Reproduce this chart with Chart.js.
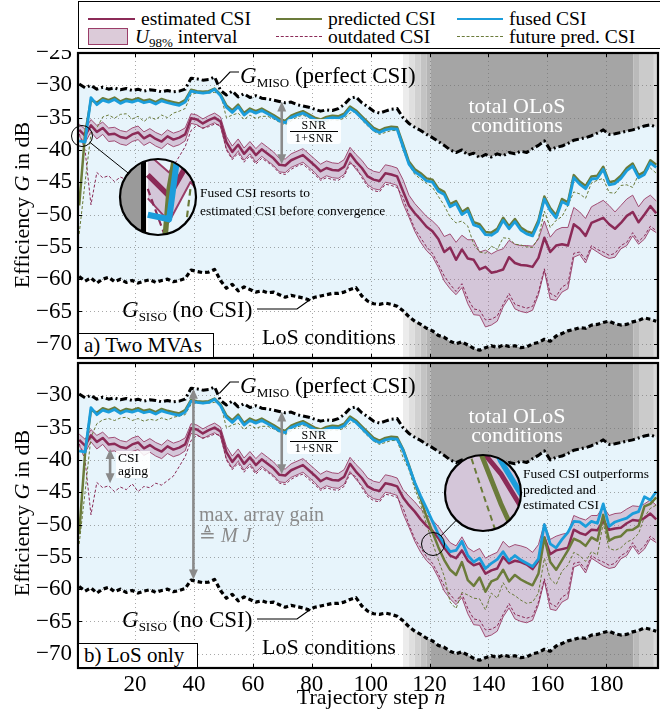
<!DOCTYPE html>
<html><head><meta charset="utf-8">
<script src="https://cdn.jsdelivr.net/npm/chart.js@4.4.1/dist/chart.umd.min.js"></script>
<style>
html,body{margin:0;padding:0;background:#fff}
body{width:660px;height:713px;position:relative;overflow:hidden;font-family:"Liberation Serif","Times New Roman",serif;color:#000}
.panel{position:absolute;left:0;width:660px}
.panel canvas{position:absolute;left:0;top:0}
.t{position:absolute;white-space:nowrap;line-height:1}
.sub{font-size:13px;position:relative;top:4px}
.box{position:absolute;background:#fff;border:1.5px solid #000;box-sizing:border-box;font-size:21px;line-height:23px;padding-left:5px;white-space:nowrap}
#legend{position:absolute;left:78px;top:1px;width:590px;height:48px;border:1.5px solid #000;box-sizing:border-box;background:#fff}
.lg{position:absolute;font-size:19.5px;line-height:1;white-space:nowrap}
.ll{position:absolute;height:0}
</style>
</head><body>

<div id="legend">
  <div class="ll" style="left:9px;top:16px;width:47px;border-top:2.5px solid #8b2a57"></div>
  <div class="lg" style="left:62px;top:7px">estimated CSI</div>
  <div class="ll" style="left:197px;top:16px;width:46px;border-top:2.5px solid #6b7b3a"></div>
  <div class="lg" style="left:249px;top:7px">predicted CSI</div>
  <div class="ll" style="left:378px;top:16px;width:46px;border-top:2.5px solid #1b9ddb"></div>
  <div class="lg" style="left:430px;top:7px">fused CSI</div>
  <div style="position:absolute;left:9px;top:26px;width:40px;height:17px;background:#dccbd9;border:1px solid #9a3d68;box-sizing:border-box"></div>
  <div class="lg" style="left:56px;top:25px"><i>U</i><span style="font-size:13px;position:relative;top:4px">98%</span> interval</div>
  <div class="ll" style="left:197px;top:34px;width:46px;border-top:1px dashed #8b2a57"></div>
  <div class="lg" style="left:249px;top:25px">outdated CSI</div>
  <div class="ll" style="left:378px;top:34px;width:46px;border-top:1px dashed #6b7b3a"></div>
  <div class="lg" style="left:430px;top:25px">future pred. CSI</div>
</div>

<div id="pa" class="panel" style="top:50px;height:312px">
  <canvas id="ca" width="660" height="312"></canvas>
  <div class="t" style="left:240px;top:14px;font-size:23px"><i>G</i><span class="sub">MISO</span> (perfect CSI)</div>
  <div class="t" style="left:122px;top:248px;font-size:23px"><i>G</i><span class="sub">SISO</span> (no CSI)</div>
  <div class="t" style="left:262px;top:276px;font-size:22px">LoS conditions</div>
  <div class="t" style="left:417px;top:46px;width:200px;text-align:center;font-size:22px;line-height:19px;color:#fff">total OLoS<br>conditions</div>
  <div style="position:absolute;left:287px;top:69px;width:54px;height:25px;background:rgba(255,255,255,0.85);border-radius:3px;text-align:center;font-size:12px;line-height:11px;letter-spacing:0.5px">
    <div style="margin-top:1px">SNR</div><div style="border-top:1px solid #000;margin:0 3px;padding-top:1px">1+SNR</div></div>
  <div class="t" style="left:200px;top:134px;font-size:13.5px;line-height:18px">Fused CSI resorts to<br>estimated CSI before convergence</div>
  <div class="box" style="left:78px;top:283px;width:136px;height:25px">a) Two MVAs</div>
</div>

<div id="pb" class="panel" style="top:360px;height:353px">
  <canvas id="cb" width="660" height="353"></canvas>
  <div class="t" style="left:240px;top:14px;font-size:23px"><i>G</i><span class="sub">MISO</span> (perfect CSI)</div>
  <div class="t" style="left:122px;top:248px;font-size:23px"><i>G</i><span class="sub">SISO</span> (no CSI)</div>
  <div class="t" style="left:262px;top:276px;font-size:22px">LoS conditions</div>
  <div class="t" style="left:417px;top:46px;width:200px;text-align:center;font-size:22px;line-height:19px;color:#fff">total OLoS<br>conditions</div>
  <div style="position:absolute;left:287px;top:69px;width:54px;height:25px;background:rgba(255,255,255,0.85);border-radius:3px;text-align:center;font-size:12px;line-height:11px;letter-spacing:0.5px">
    <div style="margin-top:1px">SNR</div><div style="border-top:1px solid #000;margin:0 3px;padding-top:1px">1+SNR</div></div>
  <div class="t" style="left:116px;top:91px;padding:1px 2px;background:rgba(255,255,255,0.85);font-size:13.5px;line-height:12.5px;text-align:left">CSI<br>aging</div>
  <div class="t" style="left:199px;top:144px;font-size:20px;color:#8a8a8a">max. array gain</div>
  <div class="t" style="left:199px;top:165px;font-size:20px;color:#8a8a8a">≜ <i>M J</i></div>
  <div class="t" style="left:523px;top:106px;font-size:13.5px;line-height:15.5px">Fused CSI outperforms<br>predicted and<br>estimated CSI</div>
  <div class="box" style="left:78px;top:283px;width:120px;height:25px">b) LoS only</div>
</div>

<div class="t" style="left:22px;top:205px;font-size:22px;transform:translate(-50%,-50%) rotate(-90deg)">Efficiency <i>G</i> in dB</div>
<div class="t" style="left:22px;top:513px;font-size:22px;transform:translate(-50%,-50%) rotate(-90deg)">Efficiency <i>G</i> in dB</div>
<div class="t" style="left:371px;top:697px;font-size:22px;transform:translate(-50%,-50%)">Trajectory step <i>n</i></div>

<script>
// ---------------- DATA ----------------
const nSteps = [1,3,5,7,9,11,13,15,17,19,21,23,25,27,29,31,33,35,37,39,41,43,45,47,49,51,53,55,57,59,61,63,65,67,69,71,73,75,77,79,81,83,85,87,89,91,93,95,97,99,101,103,105,107,109,111,113,115,117,119,121,123,125,127,129,131,133,135,137,139,141,143,145,147,149,151,153,155,157,159,161,163,165,167,169,171,173,175,177,179,181,183,185,187,189,191,193,195,197];

const xTickValues = [20,40,60,80,100,120,140,160,180];
const yTickValuesA = [-70,-65,-60,-55,-50,-45,-40,-35,-30,-25];
const yTickValuesB = [-70,-65,-60,-55,-50,-45,-40,-35,-30];

const gMiso = [-29.8,-30.4,-30.0,-30.6,-30.3,-30.6,-30.4,-30.7,-30.5,-30.8,
 -30.6,-30.9,-30.7,-30.8,-31.0,-30.8,-31.0,-30.9,-30.6,-28.9,
 -29.0,-29.2,-29.1,-28.7,-30.8,-31.5,-30.9,-31.8,-31.3,-31.9,
 -31.6,-32.0,-32.1,-32.3,-32.5,-32.7,-32.6,-33.0,-33.2,-33.4,
 -33.7,-34.0,-33.8,-33.9,-33.6,-33.0,-32.0,-31.8,-32.7,-33.3,
 -34.0,-34.3,-34.0,-33.7,-33.6,
 -35.0,-35.9,-36.5,-37.0,-37.6,-38.1,-38.7,-39.3,-40.0,-40.4,
 -40.0,-40.8,-40.5,-41.2,-40.7,-41.1,-40.6,-40.9,-40.4,-40.6,
 -40.2,-40.4,-39.8,-39.3,-38.6,-40.0,-39.6,-39.4,-39.0,-38.5,
 -38.3,-38.1,-37.8,-37.4,-36.9,-37.6,-37.5,-37.3,-37.1,-36.9,
 -36.6,-36.3,-36.1,-36.5];

const gSiso = [-59.6,-60.3,-59.8,-60.6,-60.0,-59.7,-60.4,-60.0,-60.5,-60.2,
 -60.6,-60.3,-60.1,-60.5,-60.2,-60.0,-60.4,-60.2,-59.9,-58.6,
 -58.8,-59.0,-58.9,-58.5,-60.2,-61.4,-60.8,-61.8,-61.2,-61.6,
 -62.0,-61.8,-62.1,-62.0,-62.4,-62.8,-62.5,-62.7,-62.9,-63.2,
 -62.8,-62.6,-62.4,-62.2,-62.2,-62.0,-61.6,-61.3,-62.6,-63.4,
 -63.8,-63.9,-63.7,-63.9,-64.2,
 -64.9,-65.8,-66.5,-67.0,-67.6,-68.0,-68.7,-69.0,-69.6,-70.0,
 -69.7,-70.2,-70.7,-71.0,-70.6,-70.3,-70.6,-70.2,-70.4,-70.3,
 -70.6,-70.5,-70.0,-69.8,-69.3,-69.6,-68.8,-68.4,-68.0,-67.8,
 -67.5,-67.6,-67.1,-67.0,-66.7,-66.5,-66.9,-67.1,-67.0,-66.6,
 -66.4,-66.0,-66.2,-66.5];

// estimated CSI
const estLoS = [-36.9,-37.8,-36.2,-37.2,-36.6,-37.6,-37.5,-38.0,-38.2,-37.6,
 -37.3,-38.2,-37.7,-38.3,-38.7,-37.9,-38.4,-38.1,-37.6,-35.1,
 -35.3,-35.9,-35.4,-35.0,-35.6,-38.8,-40.3,-39.2,-40.6,-39.6,
 -40.8,-39.9,-40.6,-41.3,-42.3,-42.4,-41.6,-41.2,-40.8,-41.6,
 -42.4,-43.3,-42.8,-43.1,-43.2,-42.6,-40.6,-41.8,-42.8,-44.1,
 -44.6,-44.8,-43.6,-43.8,-44.1];
const estOLoSA = [-46.4,-48.6,-49.8,-50.8,-51.9,-52.6,-53.8,-55.8,-55.1,-57.0,
 -55.4,-56.8,-57.0,-58.5,-58.1,-59.0,-58.8,-58.5,-56.6,-57.5,
 -57.8,-57.9,-58.1,-56.7,-53.6,-55.8,-54.8,-54.6,-54.8,-51.5,
 -52.2,-53.3,-51.3,-50.9,-50.5,-51.5,-52.2,-51.3,-50.2,-49.6,
 -51.2,-50.0,-48.7,-49.8];
const estOLoSB = [-45.8,-47.0,-48.0,-49.2,-50.2,-51.0,-52.1,-53.6,-54.8,-55.2,
 -54.0,-55.6,-56.3,-56.0,-57.6,-57.1,-56.8,-55.0,-56.0,-55.6,
 -55.8,-56.2,-56.9,-55.6,-52.0,-54.6,-54.0,-53.8,-53.6,-50.8,
 -51.3,-51.6,-50.8,-50.9,-49.4,-50.8,-50.6,-50.5,-49.8,-49.3,
 -49.4,-49.0,-48.3,-49.2];

// U98% interval upper / lower edge
const upLoS = [-36.0,-36.8,-35.3,-36.2,-35.7,-36.6,-36.5,-37.0,-37.2,-36.6,
 -36.3,-37.2,-36.7,-37.3,-37.7,-36.9,-37.4,-37.1,-36.6,-34.4,
 -34.6,-35.2,-34.7,-34.3,-34.9,-37.9,-39.4,-38.3,-39.7,-38.7,
 -39.8,-38.9,-39.6,-40.3,-41.3,-41.4,-40.6,-40.2,-39.8,-40.6,
 -41.4,-42.2,-41.7,-42.0,-42.1,-41.5,-39.6,-40.7,-41.6,-42.8,
 -43.3,-43.5,-42.3,-42.5,-42.8];
const upOLoSA = [-44.6,-47.0,-48.3,-49.3,-50.3,-51.0,-51.9,-53.4,-53.0,-54.3,
 -53.2,-53.9,-53.9,-55.8,-55.5,-56.1,-55.6,-55.3,-54.0,-54.6,
 -54.8,-54.8,-54.9,-53.8,-51.0,-53.5,-52.4,-52.0,-52.0,-48.9,
 -49.6,-50.6,-48.8,-48.3,-47.8,-48.6,-49.6,-48.6,-47.6,-47.0,
 -48.8,-47.6,-47.0,-47.9];
const upOLoSB = [-44.6,-45.6,-46.5,-47.6,-48.5,-49.3,-50.3,-51.6,-52.8,-53.3,
 -51.9,-53.6,-54.2,-53.7,-55.2,-54.7,-54.3,-52.6,-53.5,-53.1,
 -53.3,-53.6,-54.3,-53.1,-49.8,-52.3,-51.8,-51.5,-51.3,-48.6,
 -49.0,-49.3,-48.6,-48.6,-47.2,-48.6,-48.3,-48.2,-47.6,-47.1,
 -47.2,-46.8,-46.2,-47.0];
const lowU = [-37.9,-38.9,-37.2,-38.3,-37.6,-38.7,-38.6,-39.1,-39.3,-38.7,
 -38.4,-39.3,-38.8,-39.4,-39.8,-39.0,-39.5,-39.2,-38.6,-35.9,
 -36.1,-36.7,-36.2,-35.8,-36.4,-39.8,-41.3,-40.2,-41.6,-40.6,
 -41.9,-41.0,-41.7,-42.4,-43.4,-43.5,-42.7,-42.3,-41.9,-42.7,
 -43.5,-44.5,-44.0,-44.3,-44.4,-43.8,-41.8,-43.0,-44.0,-45.4,
 -46.0,-46.2,-45.0,-45.2,-45.5,
 -48.3,-50.4,-52.6,-54.3,-55.6,-56.5,-58.2,-60.3,-61.5,-62.4,
 -61.3,-63.8,-65.5,-65.6,-67.4,-67.1,-66.5,-64.3,-62.9,-64.6,
 -65.0,-65.2,-64.8,-62.4,-58.7,-63.1,-63.3,-62.0,-61.5,-56.6,
 -56.2,-57.5,-55.2,-55.8,-56.4,-56.8,-56.6,-55.3,-54.8,-53.3,
 -54.6,-53.8,-52.2,-52.8];

// outdated CSI
const outdated = [-37.5,-40.0,-48.5,-43.5,-44.3,-44.0,-44.9,-44.2,-44.6,-43.7,
 -44.9,-44.1,-44.3,-43.6,-43.9,-43.2,-42.5,-41.0,-39.5,-37.0,
 -36.2,-36.6,-36.4,-36.0,-36.2,-40.0,-41.5,-40.5,-41.9,-40.9,
 -42.2,-41.3,-41.9,-42.6,-43.6,-43.8,-43.0,-42.5,-42.2,-43.0,
 -43.8,-44.7,-44.3,-44.6,-44.7,-44.1,-42.1,-42.6,-44.3,-45.7,
 -46.3,-46.5,-45.3,-45.5,-45.8,
 -47.4,-50.0,-52.2,-53.6,-55.0,-56.0,-57.7,-59.5,-60.8,-61.9,
 -60.7,-63.0,-64.6,-64.8,-66.3,-66.2,-65.7,-63.9,-62.2,-63.9,
 -64.2,-64.5,-64.2,-62.0,-58.4,-62.2,-62.7,-61.2,-60.7,-56.0,
 -55.8,-57.0,-54.8,-55.4,-55.8,-56.3,-56.0,-54.8,-54.3,-52.8,
 -54.2,-53.3,-51.8,-52.5];

// fused CSI
const fusedLoS = [-38.6,-38.8,-31.9,-33.0,-32.3,-32.6,-32.2,-32.8,-32.4,-32.6,
 -32.3,-32.7,-32.5,-32.9,-32.4,-32.7,-32.9,-33.1,-32.6,-30.9,
 -31.1,-31.2,-31.1,-30.6,-31.6,-33.4,-34.2,-33.3,-34.6,-33.9,
 -34.3,-33.9,-34.4,-34.9,-35.5,-35.8,-35.0,-34.6,-34.3,-34.8,
 -35.3,-35.6,-35.2,-35.0,-35.1,-34.7,-33.6,-34.2,-35.1,-36.0,
 -36.9,-37.3,-36.9,-36.7,-36.8];
const fusedOLoSA = [-39.5,-42.2,-43.4,-44.0,-44.8,-45.0,-46.4,-46.9,-48.8,-48.3,
 -50.0,-49.4,-51.6,-51.9,-53.1,-53.2,-52.6,-50.9,-52.2,-51.1,
 -52.4,-53.0,-53.3,-51.3,-47.6,-49.4,-50.5,-48.0,-48.5,-44.3,
 -45.3,-46.0,-44.5,-44.4,-43.0,-45.4,-45.2,-44.4,-43.2,-42.5,
 -44.3,-43.8,-42.0,-42.7];
const fusedOLoSB = [-38.5,-41.0,-43.5,-45.6,-47.5,-49.5,-51.5,-53.0,-54.2,-54.0,
 -52.6,-54.8,-55.8,-55.2,-56.8,-56.0,-55.4,-54.2,-55.6,-54.8,
 -55.5,-56.0,-56.5,-55.3,-50.0,-53.0,-53.6,-52.3,-51.2,-49.5,
 -49.6,-50.3,-49.5,-49.8,-46.8,-50.3,-49.6,-49.3,-49.0,-48.3,
 -48.0,-45.7,-46.2,-44.9];

// predicted CSI
const predLoSA = [-48.6,-37.5,-32.3,-32.7,-32.0,-32.3,-31.9,-32.5,-32.1,-32.3,
 -32.0,-32.4,-32.2,-32.6,-32.1,-32.4,-32.6,-32.8,-32.3,-30.7,
 -30.9,-31.0,-30.9,-30.5,-31.4,-33.1,-33.9,-33.0,-34.3,-33.6,
 -34.0,-33.6,-34.1,-34.6,-35.2,-35.5,-34.7,-34.3,-34.0,-34.5,
 -35.0,-35.3,-34.9,-34.7,-34.8,-34.4,-33.3,-33.9,-34.8,-35.7,
 -36.6,-37.0,-36.6,-36.4,-36.5];
const predLoSB = [-51.5,-39.0,-32.3,-32.7,-32.0,-32.3,-31.9,-32.5,-32.1,-32.3,
 -32.0,-32.4,-32.2,-32.6,-32.1,-32.4,-32.6,-32.8,-32.3,-30.7,
 -30.9,-31.0,-30.9,-30.5,-31.4,-33.1,-33.9,-33.0,-34.3,-33.6,
 -34.0,-33.6,-34.1,-34.6,-35.2,-35.5,-34.7,-34.3,-34.0,-34.5,
 -35.0,-35.3,-34.9,-34.7,-34.8,-34.4,-33.3,-33.9,-34.8,-35.7,
 -36.6,-37.0,-36.6,-36.4,-36.5];
const predOLoSA = [-39.1,-41.8,-43.0,-43.6,-44.4,-44.6,-46.0,-46.5,-48.4,-47.9,
 -49.6,-49.0,-51.2,-51.5,-52.7,-52.8,-52.2,-50.5,-51.8,-50.7,
 -52.0,-52.6,-52.9,-50.9,-47.2,-49.0,-50.1,-47.6,-48.1,-43.9,
 -44.9,-45.6,-44.1,-44.0,-42.6,-45.0,-44.8,-44.0,-42.8,-42.1,
 -43.9,-43.4,-41.6,-42.3];
const predOLoSB = [-38.3,-40.8,-43.6,-46.0,-48.8,-51.2,-53.5,-55.5,-57.0,-57.8,
 -55.8,-58.6,-59.5,-58.2,-60.4,-58.8,-58.4,-57.0,-58.8,-57.8,
 -58.5,-59.0,-59.4,-57.6,-52.0,-55.8,-57.0,-55.5,-54.0,-52.2,
 -52.6,-53.3,-52.0,-52.5,-48.5,-52.5,-52.0,-51.8,-50.9,-50.8,
 -50.2,-47.2,-46.8,-45.8];

// future predicted CSI
const fpLoSA = [-53.0,-45.0,-37.5,-36.6,-34.9,-34.6,-35.1,-34.5,-34.4,-35.2,
 -34.8,-35.6,-34.9,-35.3,-34.6,-35.0,-34.3,-34.0,-33.6,-31.4,
 -31.2,-31.3,-31.2,-31.1,-31.3,-35.0,-34.6,-34.3,-35.3,-34.6,
 -35.1,-34.8,-34.8,-35.2,-35.7,-36.1,-35.5,-34.9,-34.6,-35.0,
 -35.6,-35.9,-35.6,-35.3,-35.4,-35.1,-34.3,-34.0,-35.4,-36.3,
 -37.1,-37.6,-37.3,-37.0,-37.0];
const fpLoSB = [-53.0,-45.0,-36.5,-34.4,-33.8,-33.6,-33.9,-33.5,-33.4,-33.9,
 -33.6,-34.0,-33.7,-33.9,-33.5,-33.8,-33.4,-33.2,-33.0,-31.4,
 -31.2,-31.3,-31.2,-31.1,-31.3,-35.0,-34.6,-34.3,-35.3,-34.6,
 -35.1,-34.8,-34.8,-35.2,-35.7,-36.1,-35.5,-34.9,-34.6,-35.0,
 -35.6,-35.9,-35.6,-35.3,-35.4,-35.1,-34.3,-34.0,-35.4,-36.3,
 -37.1,-37.6,-37.3,-37.0,-37.0];
const fpOLoSA = [-40.0,-42.3,-43.8,-44.5,-45.2,-45.8,-47.2,-48.6,-50.4,-51.3,
 -51.0,-51.8,-54.6,-55.8,-56.0,-54.9,-55.4,-53.6,-53.7,-54.6,
 -54.7,-55.0,-55.1,-53.6,-49.5,-52.0,-50.9,-50.3,-48.6,-46.5,
 -46.8,-47.5,-45.1,-44.7,-44.4,-46.6,-46.7,-45.5,-45.4,-45.8,
 -43.8,-43.5,-42.8,-43.6];
const fpOLoSB = [-39.6,-41.5,-44.5,-47.0,-50.0,-52.8,-55.5,-58.0,-62.0,-63.0,
 -60.5,-60.9,-61.4,-61.5,-63.2,-60.6,-61.4,-59.0,-60.5,-61.0,
 -61.7,-62.2,-62.0,-60.6,-55.2,-58.4,-59.3,-57.2,-56.3,-54.3,
 -54.8,-55.7,-54.2,-54.7,-49.8,-53.7,-54.0,-53.6,-52.7,-52.3,
 -51.4,-48.8,-47.5,-47.0];

// OLoS shading bands [from n, to n, colour]
const shadeBands = [[111.0,113.0,'#ececec'],[113.0,115.0,'#dfdfdf'],[115.0,117.0,'#d1d1d1'],[117.0,119.0,'#c3c3c3'],[119.0,120.3,'#b5b5b5'],
  [120.3,189.3,'#a5a5a5'],[189.3,191.4,'#bababa'],[191.4,196.2,'#cbcbcb'],[196.2,198,'#d9d9d9']];

// ---------------- CHART ----------------
const C = {est:'#8b2a57', pred:'#6b7b3a', fused:'#1b9ddb', bandFill:'rgba(168,92,138,0.30)', bandEdge:'#9a3d68', light:'#e7f4fb'};
const FONT = '"Liberation Serif", "Times New Roman", serif';
const pts = arr => nSteps.map((n,i)=>({x:n, y:arr[i]}));

function drawArrow(ctx, x, y1, y2){
  const h = 9, w = 4.5;
  ctx.save();
  ctx.strokeStyle = '#8a8a8a'; ctx.fillStyle = '#8a8a8a'; ctx.lineWidth = 2.6;
  ctx.beginPath(); ctx.moveTo(x, y1 + h); ctx.lineTo(x, y2 - h); ctx.stroke();
  ctx.beginPath(); ctx.moveTo(x, y1); ctx.lineTo(x - w, y1 + h + 1); ctx.lineTo(x + w, y1 + h + 1); ctx.closePath(); ctx.fill();
  ctx.beginPath(); ctx.moveTo(x, y2); ctx.lineTo(x - w, y2 - h - 1); ctx.lineTo(x + w, y2 - h - 1); ctx.closePath(); ctx.fill();
  ctx.restore();
}

function drawBands(ctx, chart){
  const a = chart.chartArea, x = chart.scales.x;
  shadeBands.forEach(b => {
    const x0 = x.getPixelForValue(b[0]), x1 = x.getPixelForValue(b[1]);
    ctx.fillStyle = b[2]; ctx.fillRect(x0, a.top, x1 - x0, a.height);
  });
}

// magnified view: re-draws the library-positioned line elements at a larger scale
function magnify(chart, s, d){
  const ctx = chart.ctx, a = chart.chartArea, k = d.r / s.r;
  const metas = chart.data.datasets.map((_, i) => chart.getDatasetMeta(i));
  const P = i => metas[i].data.map(e => [e.x, e.y]);
  const poly = (p) => { ctx.moveTo(p[0][0], p[0][1]); for (let i = 1; i < p.length; i++) ctx.lineTo(p[i][0], p[i][1]); };
  const fillBetween = (i, j, col) => {
    const p = P(i), q = P(j).slice().reverse();
    ctx.beginPath(); poly(p); q.forEach(v => ctx.lineTo(v[0], v[1])); ctx.closePath();
    ctx.fillStyle = col; ctx.fill();
  };
  const stroke = (i) => {
    const ds = chart.data.datasets[i];
    ctx.save();
    ctx.strokeStyle = ds.borderColor; ctx.lineWidth = ds.borderWidth * 0.6; ctx.lineJoin = 'round';
    ctx.setLineDash((ds.borderDash || []).map(v => v * 0.6));
    ctx.beginPath(); poly(P(i)); ctx.stroke();
    ctx.restore();
  };
  ctx.save();
  ctx.beginPath(); ctx.arc(d.x, d.y, d.r, 0, Math.PI*2); ctx.closePath();
  ctx.fillStyle = '#fff'; ctx.fill();
  ctx.clip();
  ctx.translate(d.x, d.y); ctx.scale(k, k); ctx.translate(-s.x, -s.y);
  ctx.fillStyle = '#9a9a9a'; ctx.fillRect(a.left - 40, a.top, 40, a.height);
  ctx.save();
  ctx.beginPath(); ctx.rect(a.left, a.top, a.width, a.height); ctx.clip();
  drawBands(ctx, chart);
  fillBetween(0, 1, C.light);
  [0, 1].forEach(stroke);
  fillBetween(2, 3, C.bandFill);
  [2, 3, 4, 5, 6, 7, 8].forEach(stroke);
  ctx.restore();
  ctx.strokeStyle = '#000'; ctx.lineWidth = 1.4; ctx.strokeRect(a.left, a.top, a.width, a.height);
  ctx.restore();
  ctx.save();
  ctx.strokeStyle = '#000';
  ctx.lineWidth = 2.2; ctx.beginPath(); ctx.arc(d.x, d.y, d.r, 0, Math.PI*2); ctx.stroke();
  ctx.lineWidth = 1; ctx.beginPath(); ctx.arc(s.x, s.y, s.r, 0, Math.PI*2); ctx.stroke();
  const dx = d.x - s.x, dy = d.y - s.y, L = Math.hypot(dx, dy), ux = dx/L, uy = dy/L;
  ctx.beginPath(); ctx.moveTo(s.x + ux*s.r, s.y + uy*s.r); ctx.lineTo(d.x - ux*d.r, d.y - uy*d.r); ctx.stroke();
  ctx.restore();
}

function decor(panel){
  return {
    id: 'decor',
    beforeDatasetsDraw(chart){
      const {ctx, chartArea:a} = chart;
      ctx.save(); ctx.beginPath(); ctx.rect(a.left, a.top, a.width, a.height); ctx.clip();
      drawBands(ctx, chart);
      ctx.restore();
    },
    beforeDatasetDraw(chart, args){
      if (args.index !== 0) return;
      // grid drawn after the light-blue area fill, before the lines
      const {ctx, chartArea:a, scales:{x, y}} = chart;
      ctx.save();
      ctx.strokeStyle = 'rgba(110,110,110,0.6)'; ctx.lineWidth = 1; ctx.setLineDash([1,3]);
      xTickValues.forEach(v => { const p = Math.round(x.getPixelForValue(v)) + 0.5;
        ctx.beginPath(); ctx.moveTo(p, a.top); ctx.lineTo(p, a.bottom); ctx.stroke(); });
      panel.yTicks.forEach(v => { const p = Math.round(y.getPixelForValue(v)) + 0.5;
        ctx.beginPath(); ctx.moveTo(a.left, p); ctx.lineTo(a.right, p); ctx.stroke(); });
      ctx.restore();
    },
    afterDraw(chart){
      const {ctx, chartArea:a, scales:{x, y}} = chart;
      ctx.save();
      ctx.strokeStyle = '#000'; ctx.lineWidth = 1;
      xTickValues.forEach(v => { const p = Math.round(x.getPixelForValue(v)) + 0.5;
        ctx.beginPath(); ctx.moveTo(p, a.top); ctx.lineTo(p, a.top + 4); ctx.moveTo(p, a.bottom); ctx.lineTo(p, a.bottom - 4); ctx.stroke(); });
      panel.yTicks.forEach(v => { const p = Math.round(y.getPixelForValue(v)) + 0.5;
        ctx.beginPath(); ctx.moveTo(a.left, p); ctx.lineTo(a.left + 4, p); ctx.moveTo(a.right, p); ctx.lineTo(a.right - 4, p); ctx.stroke(); });
      ctx.lineWidth = 2.2; ctx.strokeRect(a.left, a.top, a.width, a.height);
      ctx.lineWidth = 1.2;
      ctx.beginPath(); ctx.moveTo(x.getPixelForValue(48.6), y.getPixelForValue(-29.7)); ctx.lineTo(230, 22); ctx.lineTo(239, 22); ctx.stroke();
      ctx.beginPath(); ctx.moveTo(257, 259); ctx.lineTo(297, 259); ctx.lineTo(x.getPixelForValue(79.6), y.getPixelForValue(-63.1)); ctx.stroke();
      ctx.restore();
      panel.arrows.forEach(ar => drawArrow(ctx, x.getPixelForValue(ar.n), y.getPixelForValue(ar.from), y.getPixelForValue(ar.to)));
      magnify(chart, panel.mag.s, panel.mag.d);
    }
  };
}

function zeroPad(s){ s.paddingTop = 0; s.paddingBottom = 0; s.paddingLeft = 0; s.paddingRight = 0; }

function build(id, panel){
  const datasets = [
    {label:'G_MISO', data:pts(panel.gMiso), borderColor:'#000', borderWidth:3, borderDash:[7,3,2,3], fill:{target:1}, backgroundColor:C.light, order:9},
    {label:'G_SISO', data:pts(panel.gSiso), borderColor:'#000', borderWidth:3.2, borderDash:[4.5,3], fill:false, order:8},
    {label:'U98 upper', data:pts(panel.up), borderColor:C.bandEdge, borderWidth:0.9, fill:{target:3}, backgroundColor:C.bandFill, order:7},
    {label:'U98 lower', data:pts(panel.low), borderColor:C.bandEdge, borderWidth:0.9, fill:false, order:6},
    {label:'outdated CSI', data:pts(panel.out), borderColor:C.est, borderWidth:1, borderDash:[3,2], fill:false, order:5},
    {label:'future pred. CSI', data:pts(panel.fp), borderColor:C.pred, borderWidth:1, borderDash:[3,2], fill:false, order:4},
    {label:'estimated CSI', data:pts(panel.est), borderColor:C.est, borderWidth:2.5, fill:false, order:3},
    {label:'predicted CSI', data:pts(panel.pred), borderColor:C.pred, borderWidth:2.5, fill:false, order:2},
    {label:'fused CSI', data:pts(panel.fused), borderColor:C.fused, borderWidth:2.8, fill:false, order:1}
  ];
  return new Chart(document.getElementById(id), {
    type:'line',
    data:{datasets},
    options:{
      responsive:false, animation:false, devicePixelRatio:1,
      layout:{padding:{top:3, right:2, bottom:panel.bottom ? 0 : 4, left:0}},
      elements:{point:{radius:0}, line:{tension:0, borderJoinStyle:'round'}},
      plugins:{legend:{display:false}, tooltip:{enabled:false}},
      scales:{
        x:{type:'linear', min:0.6, max:197.6,
           grid:{display:false, drawTicks:false}, border:{display:false},
           ticks:{display:panel.bottom, autoSkip:false, maxRotation:0, padding:3, color:'#000', font:{family:FONT, size:23}},
           afterBuildTicks:s => { s.ticks = xTickValues.map(v => ({value:v})); },
           afterFit:s => { s.height = panel.bottom ? 45 : 0; zeroPad(s); }},
        y:{type:'linear', min:-72.2, max:-25,
           grid:{display:false, drawTicks:false}, border:{display:false},
           ticks:{autoSkip:false, padding:6, color:'#000', font:{family:FONT, size:23},
                  callback:v => (v < 0 ? '\u2212' : '') + Math.abs(v)},
           afterBuildTicks:s => { s.ticks = panel.yTicks.map(v => ({value:v})); },
           afterFit:s => { s.width = 78; zeroPad(s); }}
      }
    },
    plugins:[decor(panel)]
  });
}

const panelA = {
  bottom:false, yTicks:yTickValuesA,
  gMiso, gSiso, low:lowU, out:outdated,
  up:upLoS.concat(upOLoSA), est:estLoS.concat(estOLoSA), fused:fusedLoS.concat(fusedOLoSA),
  pred:predLoSA.concat(predOLoSA), fp:fpLoSA.concat(fpOLoSA),
  arrows:[{n:69.8, from:-32.5, to:-42.2}],
  mag:{s:{x:82, y:86, r:10.5}, d:{x:158, y:147, r:38}}
};
const panelB = {
  bottom:true, yTicks:yTickValuesB,
  gMiso, gSiso, low:lowU, out:outdated,
  up:upLoS.concat(upOLoSB), est:estLoS.concat(estOLoSB), fused:fusedLoS.concat(fusedOLoSB),
  pred:predLoSB.concat(predOLoSB), fp:fpLoSB.concat(fpOLoSB),
  arrows:[{n:69.8, from:-32.5, to:-42.2},{n:11.5, from:-38.3, to:-43.6},{n:39.8, from:-29.0, to:-58.5}],
  mag:{s:{x:433, y:184, r:11.5}, d:{x:483, y:133, r:38}}
};
build('ca', panelA);
build('cb', panelB);
</script>
</body></html>
